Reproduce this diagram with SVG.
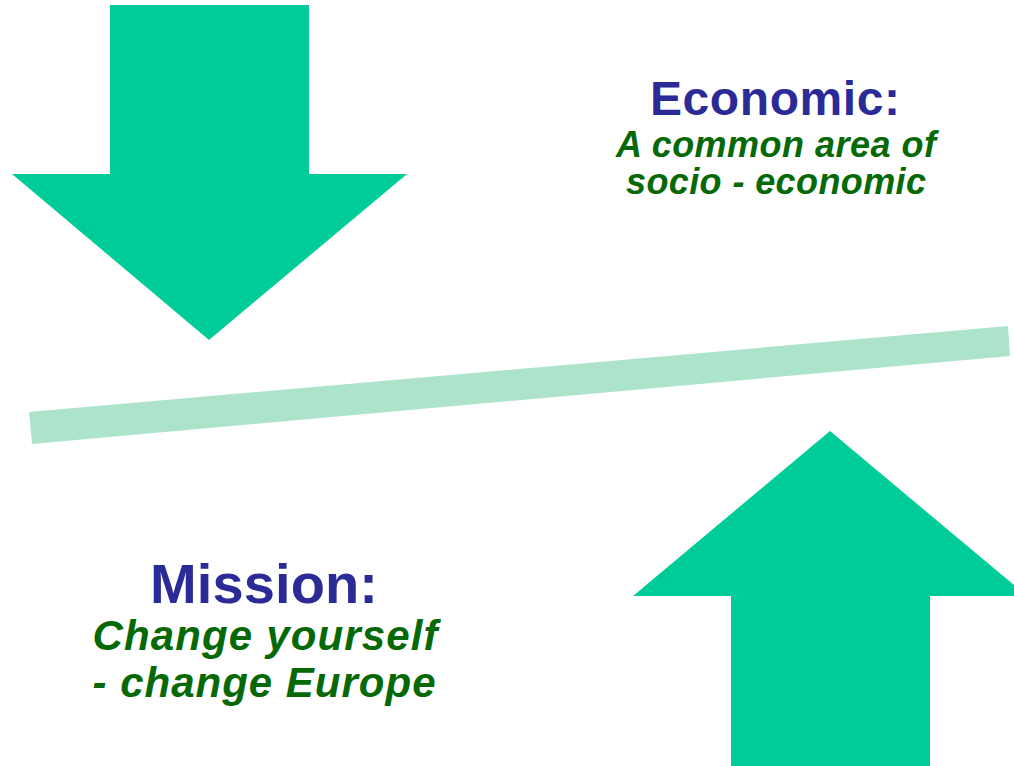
<svg xmlns="http://www.w3.org/2000/svg" width="1014" height="766" viewBox="0 0 1014 766">
  <style>
    .arrow { fill: #00CC99; }
    .beam { fill: #ADE3CB; }
    .title { font-family: "Liberation Sans", Arial, sans-serif; font-weight: bold; fill: #2B2B98; text-anchor: middle; }
    .sub { font-family: "Liberation Sans", Arial, sans-serif; font-weight: bold; font-style: italic; fill: #066906; text-anchor: middle; }
  </style>
  <rect width="1014" height="766" fill="#FFFFFF"/>

  <!-- downward force arrow -->
  <g id="arrow-down">
    <polygon class="arrow" points="110,5 309,5 309,174 407,174 209,340 12,174 110,174"/>
  </g>

  <!-- tilted beam -->
  <g id="connectors">
    <polygon class="beam" points="29,412 1008,326 1010,356 32,444"/>
  </g>

  <!-- upward force arrow -->
  <g id="arrow-up">
    <polygon class="arrow" points="830,431 1027,596 930,596 930,766 731,766 731,596 633,596"/>
  </g>

  <g id="economic">
    <text class="title" x="775" y="115" font-size="48" textLength="250" lengthAdjust="spacing">Economic:</text>
    <text class="sub" x="776" y="157" font-size="36" textLength="320" lengthAdjust="spacing">A common area of</text>
    <text class="sub" x="776" y="194" font-size="36" textLength="300" lengthAdjust="spacing">socio - economic</text>
  </g>

  <g id="mission">
    <text class="title" x="264" y="603" font-size="56" textLength="228" lengthAdjust="spacing">Mission:</text>
    <text class="sub" x="265" y="650" font-size="42" textLength="345" lengthAdjust="spacing">Change yourself</text>
    <text class="sub" x="264" y="697" font-size="42" textLength="343" lengthAdjust="spacing">- change Europe</text>
  </g>
</svg>
